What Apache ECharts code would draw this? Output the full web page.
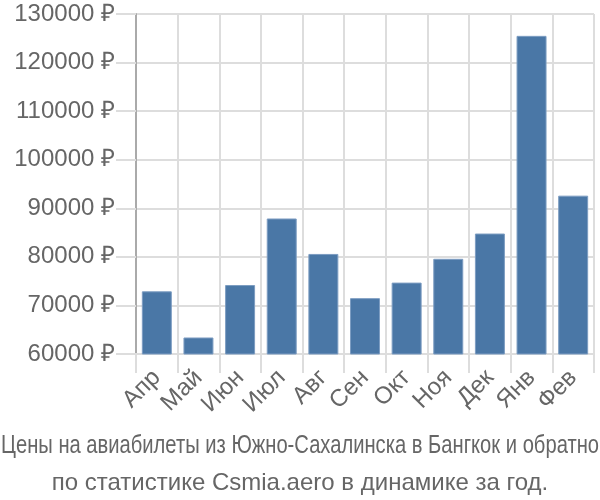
<!DOCTYPE html>
<html><head><meta charset="utf-8">
<script src="https://cdn.jsdelivr.net/npm/echarts@6/dist/echarts.min.js"></script>
<style>html,body{margin:0;padding:0;background:#fff}#c{width:600px;height:500px}</style>
</head><body><div id="c"></div>
<script>
var categories = ['Апр','Май','Июн','Июл','Авг','Сен','Окт','Ноя','Дек','Янв','Фев'];
var prices = [72900, 63400, 74200, 87900, 80600, 71500, 74700, 79600, 84800, 125500, 92600];
var titleLine1 = 'Цены на авиабилеты из Южно-Сахалинска в Бангкок и обратно';
var titleLine2 = 'по статистике Csmia.aero в динамике за год.';
var yMin = 60000, yMax = 130000, yStep = 10000;

var FONT = 'Liberation Sans';
var t1Size = 25;
var ctx = document.createElement('canvas').getContext('2d');
ctx.font = t1Size + 'px "' + FONT + '"';
var t1W = ctx.measureText(titleLine1).width;
var t1Scale = 598 / t1W;

var chart = echarts.init(document.getElementById('c'), null, {renderer:'canvas'});
chart.setOption({
  animation:false,
  textStyle:{fontFamily:FONT},
  title:[
    {text:titleLine2, left:'center', top:466, textStyle:{fontFamily:FONT, fontSize:24, fontWeight:'normal', color:'#666'}}
  ],
  graphic:[{
    type:'text', x:300, y:434, scaleX:t1Scale, scaleY:1,
    style:{text:titleLine1, font:t1Size + 'px "' + FONT + '"', fill:'#666', textAlign:'center', textVerticalAlign:'top'}
  }],
  grid:{left:136, right:6, top:14, bottom:146, containLabel:false},
  xAxis:{type:'category', data:categories,
    axisLine:{show:true, lineStyle:{color:'#ddd', width:2}},
    axisTick:{show:true, length:19, lineStyle:{color:'#ddd', width:2}},
    splitLine:{show:true, lineStyle:{color:'#ddd', width:2}},
    axisLabel:{rotate:45, fontSize:24, color:'#666', margin:20, interval:0}
  },
  yAxis:{type:'value', min:yMin, max:yMax, interval:yStep,
    axisLine:{show:true, lineStyle:{color:'#aaa', width:2}},
    axisTick:{show:true, length:20, lineStyle:{color:'#ddd', width:2}},
    splitLine:{show:true, lineStyle:{color:'#ddd', width:2}},
    axisLabel:{fontSize:24, color:'#666', margin:21, formatter:function(v){return v+' ₽';}}
  },
  series:[{type:'bar', data:prices, barCategoryGap:'28%',
    itemStyle:{color:'#4a77a6', borderColor:'#7d9dc2', borderWidth:1}}]
});
</script></body></html>
